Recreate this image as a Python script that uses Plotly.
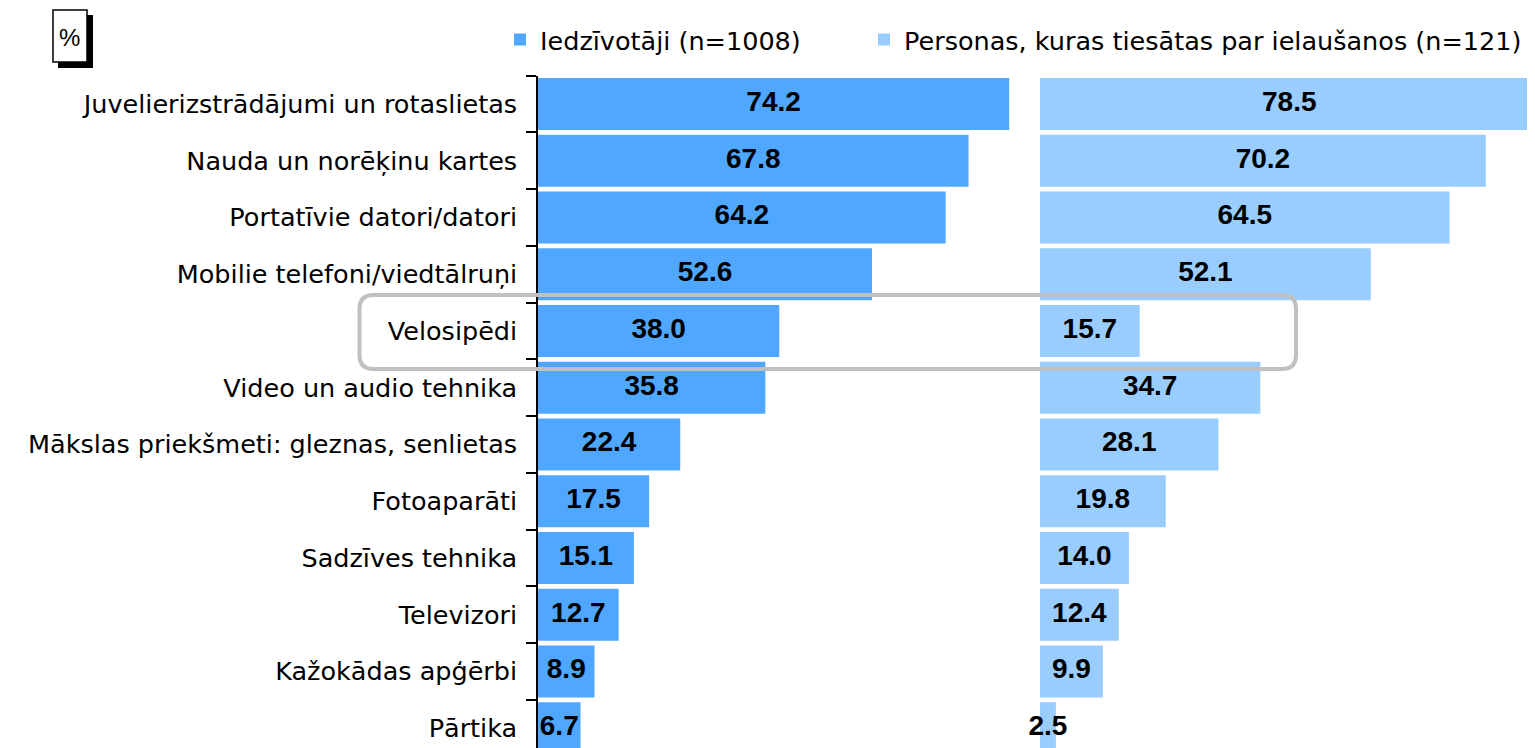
import plotly.graph_objects as go

categories = [
    "Juvelierizstrādājumi un rotaslietas",
    "Nauda un norēķinu kartes",
    "Portatīvie datori/datori",
    "Mobilie telefoni/viedtālruņi",
    "Velosipēdi",
    "Video un audio tehnika",
    "Mākslas priekšmeti: gleznas, senlietas",
    "Fotoaparāti",
    "Sadzīves tehnika",
    "Televizori",
    "Kažokādas apģērbi",
    "Pārtika",
]
residents = [74.2, 67.8, 64.2, 52.6, 38.0, 35.8, 22.4, 17.5, 15.1, 12.7, 8.9, 6.7]
convicted = [78.5, 70.2, 64.5, 52.1, 15.7, 34.7, 28.1, 19.8, 14.0, 12.4, 9.9, 2.5]
series_names = ["Iedzīvotāji (n=1008)", "Personas, kuras tiesātas par ielaušanos (n=121)"]
colors = ["#4FA7FF", "#99CCFF"]

PAGE_W, PAGE_H = 1535, 748
OFF = 8  # default page body margin
W, H = PAGE_W - OFF, PAGE_H - OFF
PX_PER_UNIT = 6.35
LEFT0, LEFT1 = 538, 1030
RIGHT0, RIGHT1 = 1040, PAGE_W
TOP = 75.6
PITCH = 56.75
ybottom = (PAGE_H - TOP) / PITCH - 0.5

def px(x):
    return (x - OFF) / W

def py(y):
    return 1 - (y - OFF) / H

fig = go.Figure()
label_font = dict(family="Liberation Sans", size=28, color="black", weight="bold")

for vals, name, col, xa, ya, lg in [
    (residents, series_names[0], colors[0], "x", "y", "legend"),
    (convicted, series_names[1], colors[1], "x2", "y2", "legend2"),
]:
    fig.add_trace(go.Bar(
        x=vals, y=categories, orientation="h", name=name,
        marker=dict(color=col, line=dict(width=0)),
        xaxis=xa, yaxis=ya, hoverinfo="skip", legend=lg,
    ))
    fig.add_trace(go.Scatter(
        x=[v / 2 for v in vals], y=categories, mode="text",
        text=[f"{v:.1f}" for v in vals], textposition="middle center",
        textfont=label_font, xaxis=xa, yaxis=ya, showlegend=False,
        cliponaxis=False, hoverinfo="skip",
    ))

legend_font = dict(family="DejaVu Sans", size=25.5, color="black")
ydom = [0, py(TOP)]
fig.update_layout(
    width=W, height=H,
    margin=dict(l=0, r=0, t=0, b=0),
    paper_bgcolor="white", plot_bgcolor="white",
    bargap=0.084,
    font=dict(family="DejaVu Sans", size=25, color="black"),
    showlegend=True,
    legend=dict(orientation="h", x=px(500), xanchor="left", y=py(40), yanchor="middle",
                font=legend_font, bgcolor="rgba(0,0,0,0)"),
    legend2=dict(orientation="h", x=px(864), xanchor="left", y=py(40), yanchor="middle",
                 font=legend_font, bgcolor="rgba(0,0,0,0)"),
    xaxis=dict(domain=[px(LEFT0), px(LEFT1)], range=[0, (LEFT1 - LEFT0) / PX_PER_UNIT],
               visible=False, showgrid=False, zeroline=False),
    xaxis2=dict(domain=[px(RIGHT0), px(RIGHT1)], range=[0, (RIGHT1 - RIGHT0) / PX_PER_UNIT],
                visible=False, showgrid=False, zeroline=False, anchor="y2"),
    yaxis=dict(domain=ydom, type="category", categoryorder="array", categoryarray=categories,
               range=[ybottom, -0.5], showline=True, linecolor="black", linewidth=1.5,
               ticks="outside", tickson="boundaries", ticklen=10, tickcolor="black",
               tickwidth=1.5, ticklabelstandoff=14, showgrid=False, zeroline=False,
               tickfont=dict(family="DejaVu Sans", size=25.5, color="black"), anchor="x"),
    yaxis2=dict(domain=ydom, matches="y", type="category", showticklabels=False,
                showline=False, ticks="", showgrid=False, zeroline=False, anchor="x2"),
)

# "%" box with shadow
fig.add_shape(type="rect", xref="paper", yref="paper",
              x0=px(58), x1=px(93), y0=py(68), y1=py(15),
              fillcolor="black", line=dict(width=0), layer="above")
fig.add_shape(type="rect", xref="paper", yref="paper",
              x0=px(53), x1=px(87), y0=py(62), y1=py(10),
              fillcolor="white", line=dict(color="black", width=1.5), layer="above")
fig.add_annotation(xref="paper", yref="paper", x=px(70), y=py(37), text="%",
                   xanchor="center", yanchor="middle", showarrow=False,
                   font=dict(family="Liberation Sans", size=24, color="black"))

# rounded highlight box
x0, x1, y0, y1, r = 359.5, 1296, 295, 369, 14
path = (f"M {px(x0 + r)},{py(y0)} L {px(x1 - r)},{py(y0)} "
        f"Q {px(x1)},{py(y0)} {px(x1)},{py(y0 + r)} L {px(x1)},{py(y1 - r)} "
        f"Q {px(x1)},{py(y1)} {px(x1 - r)},{py(y1)} L {px(x0 + r)},{py(y1)} "
        f"Q {px(x0)},{py(y1)} {px(x0)},{py(y1 - r)} L {px(x0)},{py(y0 + r)} "
        f"Q {px(x0)},{py(y0)} {px(x0 + r)},{py(y0)} Z")
fig.add_shape(type="path", xref="paper", yref="paper", path=path,
              line=dict(color="#C0C0C0", width=4), layer="above")

fig.write_html("out.html")
